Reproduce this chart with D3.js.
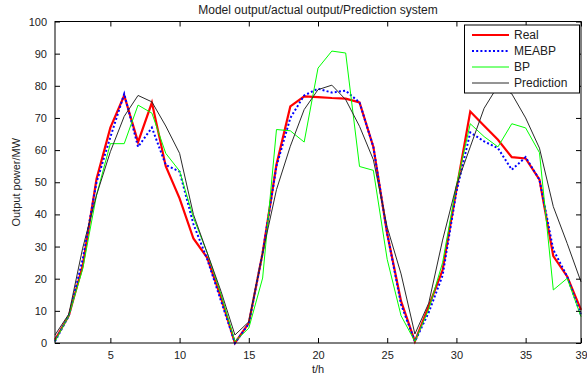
<!DOCTYPE html>
<html><head><meta charset="utf-8">
<script src="https://cdn.jsdelivr.net/npm/d3@7"></script>
<style>
html,body{margin:0;padding:0;background:#fff;}
svg{display:block;font-family:"Liberation Sans",Arial,sans-serif;}
</style></head>
<body>
<svg id="c" width="587" height="380"></svg>
<script>
const hours = d3.range(1, 40);
const real = [1,8.5,24,51,67,77,62.5,74.8,55,45,32.5,26.5,14,0,6.2,28,55.5,73.6,76.7,76.5,76.2,76,74.8,61,34,13,0.5,11.5,22.7,47.7,72,67.6,63.2,57.8,57.4,50.8,27,20.7,10.3];
const meabp = [0.5,8.5,26,50,64,77.5,61,67,55.4,53.3,37,26,13,0,6,28,55,70,77,79.1,77.9,78.5,74.8,61,34,12,0.5,9.5,21,47,65.5,62.7,60.6,53.9,57.8,50.8,29,20.7,8.7];
const bp = [0.5,8.5,23,46,62,62,74,71.5,59,53.5,39,28,15,0.5,4.6,20.2,66.4,66,62.5,85.5,90.8,90.2,54.9,53.7,26,8.5,0.5,10.5,25,49,68.2,64.2,61,68.2,66.9,59.2,16.5,20.1,8.2];
const prediction = [2.5,9,29.5,46,59.5,70.5,77,75,67.5,59,40,28,16,2.5,6.6,28,47.7,61.2,72.6,78.8,80.2,75.7,67.4,57,36,21.5,2.8,12.4,32,49,61,73,80,77.5,70,60.6,42.4,31,19];
const xTicks = [5,10,15,20,25,30,35,39];
const yTicks = d3.range(0, 101, 10);
const seriesNames = ["Real","MEABP","BP","Prediction"];
const titleText = "Model output/actual output/Prediction system";

const svg = d3.select("#c");
const L = 55, R = 581, T = 21.5, B = 343;
const x = d3.scaleLinear().domain([1,39]).range([L,R]);
const y = d3.scaleLinear().domain([0,100]).range([B,T]);

const styles = [
  {color:"#ff0000", w:2.2, dash:null},
  {color:"#0000ff", w:2, dash:"2,2.2"},
  {color:"#00ff00", w:1, dash:null},
  {color:"#2a2a2a", w:1, dash:null}
];
const data = [real, meabp, bp, prediction];

const line = d3.line().x((d,i)=>x(hours[i])).y(d=>y(d));
const g = svg.append("g");
data.forEach((arr,k)=>{
  g.append("path").attr("d", line(arr)).attr("fill","none")
   .attr("stroke", styles[k].color).attr("stroke-width", styles[k].w)
   .attr("stroke-dasharray", styles[k].dash).attr("stroke-linejoin","miter");
});

// axes (inward ticks)
const fs = 11;
const axB = d3.axisBottom(x).tickValues(xTicks).tickSizeInner(-5).tickSizeOuter(0).tickPadding(8);
const axT = d3.axisTop(x).tickValues(xTicks).tickSizeInner(-5).tickSizeOuter(0).tickFormat("");
const axL = d3.axisLeft(y).tickValues(yTicks).tickSizeInner(-5).tickSizeOuter(0).tickPadding(8);
const axR = d3.axisRight(y).tickValues(yTicks).tickSizeInner(-5).tickSizeOuter(0).tickFormat("");
[[axB,`translate(0,${B})`],[axT,`translate(0,${T})`],[axL,`translate(${L},0)`],[axR,`translate(${R},0)`]].forEach(([a,tr])=>{
  const s = svg.append("g").attr("transform",tr).call(a);
  s.select(".domain").remove();
  s.selectAll("line").attr("stroke","#000");
  s.selectAll("text").attr("font-size",fs).attr("fill","#222").attr("font-family","Liberation Sans, Arial, sans-serif");
});
svg.append("rect").attr("x",L).attr("y",T).attr("width",R-L).attr("height",B-T)
  .attr("fill","none").attr("stroke","#000").attr("stroke-width",1);

// title and labels
svg.append("text").attr("x",(L+R)/2).attr("y",13.5).attr("text-anchor","middle")
  .attr("font-size",12).attr("fill","#222").text(titleText);
svg.append("text").attr("x",(L+R)/2).attr("y",373).attr("text-anchor","middle")
  .attr("font-size",11).attr("fill","#222").text("t/h");
svg.append("text").attr("transform",`translate(20,${(T+B)/2}) rotate(-90)`).attr("text-anchor","middle")
  .attr("font-size",11).attr("fill","#222").text("Output power/MW");

// legend
const lg = svg.append("g");
lg.append("rect").attr("x",464.5).attr("y",25).attr("width",115).attr("height",68)
  .attr("fill","#fff").attr("stroke","#000").attr("stroke-width",1);
const ly = [35,51,67,83];
seriesNames.forEach((n,k)=>{
  lg.append("line").attr("x1",472).attr("x2",509).attr("y1",ly[k]).attr("y2",ly[k])
    .attr("stroke",styles[k].color).attr("stroke-width",styles[k].w).attr("stroke-dasharray",styles[k].dash);
  lg.append("text").attr("x",514).attr("y",ly[k]+4).attr("font-size",12).attr("fill","#222").text(n);
});
</script>
</body></html>
